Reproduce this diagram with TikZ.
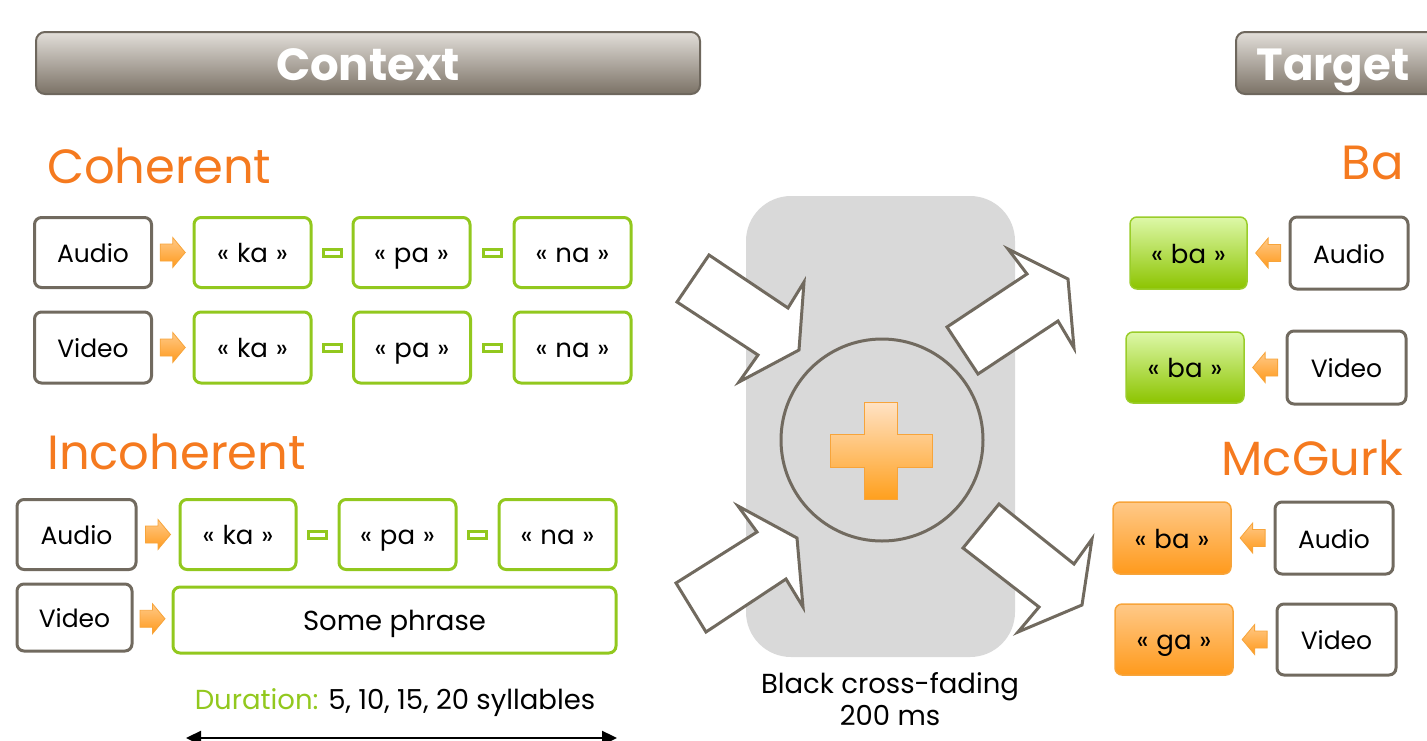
\documentclass[tikz,border=0pt]{standalone}
\usepackage{fontspec}
\setmainfont{Poppins}
\usetikzlibrary{arrows.meta,calc}
\definecolor{bordergray}{HTML}{716A5F}
\definecolor{lgreen}{HTML}{92C81E}
\definecolor{orangetxt}{HTML}{F57A1F}
\definecolor{hdrtop}{HTML}{E2DED9}
\definecolor{hdrbot}{HTML}{7B7266}
\definecolor{hdrborder}{HTML}{6E675D}
\definecolor{centergray}{HTML}{D9D9D9}
\definecolor{gtop}{HTML}{DDF8A8}
\definecolor{gbot}{HTML}{8CC400}
\definecolor{gborder}{HTML}{9ACD2A}
\definecolor{otop}{HTML}{FFC988}
\definecolor{obot}{HTML}{FF9A1C}
\definecolor{oborder}{HTML}{F7A43A}
\definecolor{ptop}{HTML}{FFE2C4}
\definecolor{pbot}{HTML}{FFA01E}
\newcommand\boxfont{\fontsize{25}{30}\selectfont}
\newcommand\sylfont{\fontsize{26}{30}\selectfont}
\newcommand\txtfont{\fontsize{27.5}{32}\selectfont}
\newcommand\bigfont{\fontsize{48}{54}\selectfont}
\newcommand\hdrfont{\fontsize{45}{54}\selectfont\bfseries}
\newcommand\sylb[1]{«\hspace{0.3em}#1\hspace{0.3em}»}
\tikzset{
  box/.style={draw=bordergray, line width=3pt, rounded corners=7pt, fill=white,
    minimum width=117pt, minimum height=70pt, inner sep=0pt, font=\boxfont,
    text height=20pt, text depth=0pt},
  gbox/.style={box, draw=lgreen, font=\sylfont},
  greenres/.style={box, draw=gborder, line width=1.5pt, fill=none, top color=gtop, bottom color=gbot, font=\sylfont},
  orangeres/.style={box, draw=oborder, line width=1.5pt, fill=none, top color=otop, bottom color=obot, font=\sylfont},
  hdr/.style={draw=hdrborder, line width=2pt, rounded corners=9pt, top color=hdrtop,
    bottom color=hdrbot, text=white, font=\hdrfont, inner sep=0pt,
    text height=35pt, text depth=0pt},
  dashbox/.style={draw=lgreen, line width=3pt, fill=white, minimum width=18pt,
    minimum height=7pt, inner sep=0pt},
  title/.style={text=orangetxt, font=\bigfont, inner sep=0pt},
  orarr/.style={draw=oborder, line width=0.8pt, top color=otop, bottom color=obot},
  bigarr/.style={draw=bordergray, line width=3pt, fill=white, line join=miter},
  pics/rarr/.style={code={\path[orarr] (-12.5,-8.5) -- (0,-8.5) -- (0,-15) -- (12.5,0)
      -- (0,15) -- (0,8.5) -- (-12.5,8.5) -- cycle;}},
  pics/larr/.style={code={\path[orarr] (12.5,-8.5) -- (0,-8.5) -- (0,-15) -- (-12.5,0)
      -- (0,15) -- (0,8.5) -- (12.5,8.5) -- cycle;}},
  plaintext/.style={font=\txtfont, inner sep=0pt}
}
\begin{document}
\begin{tikzpicture}[x=1pt, y=-1pt]
\useasboundingbox (0,0) rectangle (1427,740);
% headers
\node[hdr, minimum width=664pt, minimum height=62pt] (ctx) at (368,63) {Context};
\node[hdr, minimum width=210pt, minimum height=62pt] (tgt) at (1341,63) {\hspace*{-16pt}Target};
% titles
\node[title, anchor=base west] (coh) at (47,183) {Coherent};
\node[title, anchor=base west] (incoh) at (47,469) {Incoherent};
\node[title, anchor=base east] (ba) at (1404,179) {Ba};
\node[title, anchor=base east] (mcg) at (1403,475) {McGurk};
% coherent rows
\node[box] (cAud) at (93,252.5) {Audio};
\node[gbox] (cKa) at (252.5,252.5) {\sylb{ka}};
\node[gbox] (cPa) at (411.5,252.5) {\sylb{pa}};
\node[gbox] (cNa) at (572.5,252.5) {\sylb{na}};
\node[box, minimum height=71pt] (cVid) at (93,347.5) {Video};
\node[gbox, minimum height=71pt] (cKa2) at (252.5,347.5) {\sylb{ka}};
\node[gbox, minimum height=71pt] (cPa2) at (412,347.5) {\sylb{pa}};
\node[gbox, minimum height=71pt] (cNa2) at (572.5,347.5) {\sylb{na}};
\pic at ($(cAud.east)!0.5!(cKa.west)$) {rarr};
\pic at ($(cVid.east)!0.5!(cKa2.west)$) {rarr};
\node[dashbox] (d1) at ($(cKa.east)!0.5!(cPa.west)$) {};
\node[dashbox] (d2) at ($(cPa.east)!0.5!(cNa.west)$) {};
\node[dashbox] (d3) at ($(cKa2.east)!0.5!(cPa2.west)$) {};
\node[dashbox] (d4) at ($(cPa2.east)!0.5!(cNa2.west)$) {};
% incoherent rows
\node[box, minimum width=119pt] (iAud) at (76.5,534.5) {Audio};
\node[gbox, minimum width=116pt] (iKa) at (238,534.5) {\sylb{ka}};
\node[gbox] (iPa) at (397.5,534.5) {\sylb{pa}};
\node[gbox] (iNa) at (557.5,534.5) {\sylb{na}};
\node[box, minimum width=115pt, minimum height=67pt] (iVid) at (74.5,617.5) {Video};
\node[gbox, minimum width=443pt, minimum height=66pt, font=\txtfont] (iPhr) at (394.5,620) {Some phrase};
\pic at ($(iAud.east)!0.5!(iKa.west)$) {rarr};
\pic at ($(iVid.east)!0.5!(iPhr.west)$) {rarr};
\node[dashbox] (d5) at ($(iKa.east)!0.5!(iPa.west)$) {};
\node[dashbox] (d6) at ($(iPa.east)!0.5!(iNa.west)$) {};
% duration
\node[plaintext, anchor=base] (dur) at (395,709) {\textcolor{lgreen}{Duration:} 5, 10, 15, 20 syllables};
\coordinate (dl) at (186,738);
\coordinate (dr) at (617,738);
\draw[line width=2.5pt, {Triangle[length=15pt,width=14pt]}-{Triangle[length=15pt,width=14pt]}] (dl) -- (dr);
% centre
\node[fill=centergray, rounded corners=45pt, minimum width=269pt, minimum height=461pt, inner sep=0pt] (fade) at (880.5,426.5) {};
\node[circle, draw=bordergray, line width=3pt, minimum size=202pt, inner sep=0pt] (mix) at (882,440) {};
\path[draw=oborder, line width=1pt, top color=ptop, bottom color=pbot]
  (864,402) -- (897,402) -- (897,434) -- (932,434) -- (932,467) -- (897,467)
  -- (897,499) -- (864,499) -- (864,467) -- (830,467) -- (830,434) -- (864,434) -- cycle;
\node[plaintext, anchor=base] (bcf1) at (890,693) {Black cross-fading};
\node[plaintext, anchor=base] (bcf2) at (890,725) {200 ms};
% big arrows
\path[bigarr] (677,302) -- (709,255) -- (788,308) -- (804,282) -- (799,350) -- (739,382) -- (758,355) -- cycle;
\path[bigarr] (676,583) -- (757,532) -- (738,506) -- (797,538) -- (803,607) -- (786,579) -- (706,632) -- cycle;
\path[bigarr] (947,327) -- (1027,274) -- (1008,249) -- (1068,279) -- (1074,348) -- (1058,321) -- (978,374) -- cycle;
\path[bigarr] (963,548) -- (999,504) -- (1074,564) -- (1092,539) -- (1082,605) -- (1018,632) -- (1039,607) -- cycle;
% target side
\node[greenres, minimum height=72pt] (tB1) at (1188.5,253) {\sylb{ba}};
\node[box, minimum width=118pt, minimum height=72pt] (tAud1) at (1349,253) {Audio};
\node[greenres, minimum width=118pt, minimum height=71pt] (tB2) at (1185,367.5) {\sylb{ba}};
\node[box, minimum width=119pt, minimum height=73pt] (tVid2) at (1346.5,367.5) {Video};
\node[orangeres, minimum width=118pt, minimum height=72pt] (tM1) at (1172,538) {\sylb{ba}};
\node[box, minimum width=118pt, minimum height=72pt] (tAud3) at (1334,538) {Audio};
\node[orangeres, minimum width=118pt, minimum height=71pt] (tM2) at (1174,639.5) {\sylb{ga}};
\node[box, minimum width=119pt, minimum height=71pt] (tVid4) at (1336.5,639.5) {Video};
\pic at ($(tAud1.west)!0.5!(tB1.east)$) {larr};
\pic at ($(tVid2.west)!0.5!(tB2.east)$) {larr};
\pic at ($(tAud3.west)!0.5!(tM1.east)$) {larr};
\pic at ($(tVid4.west)!0.5!(tM2.east)$) {larr};
\end{tikzpicture}
\end{document}
